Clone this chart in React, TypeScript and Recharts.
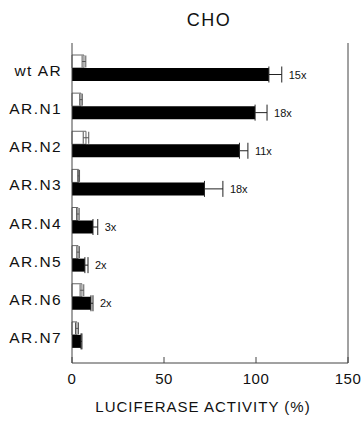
import React from 'react';
import {
  BarChart, Bar, XAxis, YAxis, ErrorBar, LabelList, Label,
} from 'recharts';

const categories = ['wt AR', 'AR.N1', 'AR.N2', 'AR.N3', 'AR.N4', 'AR.N5', 'AR.N6', 'AR.N7'];
const basal = [6.5, 4.9, 7.6, 3.6, 3.2, 3.3, 5.4, 2.7];
const basalErr = [1, 0.7, 1.5, 0.5, 0.7, 0.7, 1, 0.8];
const induced = [107, 99.5, 91, 72, 11.4, 7, 10.3, 4.9];
const inducedErr = [7, 6.5, 4.6, 10, 2.6, 1.7, 1.1, 0.5];
const folds = ['15x', '18x', '11x', '18x', '3x', '2x', '2x', ''];
const xTicks = [0, 50, 100, 150];

const data = categories.map((name, i) => ({
  name,
  basal: basal[i],
  basalErr: basalErr[i],
  induced: induced[i],
  // one-sided: the lower whisker is hidden under the filled bar anyway
  inducedErr: [0, inducedErr[i]],
  fold: folds[i],
}));

const FONT = '"Liberation Sans", Arial, Helvetica, sans-serif';
const FRAME = '#444';

const CategoryTick = (props: any) => {
  const { x, y, payload } = props;
  return (
    <text x={x} y={y} dy={8} textAnchor="end" fontSize={15.5} letterSpacing={1.4}
      fontFamily={FONT} fill="#111">
      {payload.value}
    </text>
  );
};

const ValueTick = (props: any) => {
  const { x, y, payload } = props;
  return (
    <g>
      <line x1={x} x2={x} y1={y} y2={y - 6} stroke={FRAME} strokeWidth={1} />
      <text x={x} y={y} dy={21} textAnchor="middle" fontSize={15} letterSpacing={0.5}
        fontFamily={FONT} fill="#111">
        {payload.value}
      </text>
    </g>
  );
};

const FoldLabel = (props: any) => {
  const { x, y, width, height, index } = props;
  const i = Number(index);
  const txt = folds[i];
  if (!txt) return null;
  const scale = width / induced[i];
  const errEnd = x + width + inducedErr[i] * scale;
  return (
    <text x={errEnd + 7} y={y + height / 2} dy={4} fontSize={11} fontFamily={FONT} fill="#111">
      {txt}
    </text>
  );
};

export default function App() {
  return (
    <div style={{ position: 'absolute', left: 0, top: 0, width: 364, height: 422, background: '#fff' }}>
      <div style={{
        position: 'absolute', left: 0, width: 418, top: 9, textAlign: 'center',
        fontFamily: FONT, fontSize: 18, letterSpacing: 1.5, color: '#111', lineHeight: '22px',
      }}>
        CHO
      </div>
      <BarChart
        width={364}
        height={422}
        data={data}
        layout="vertical"
        margin={{ top: 43, right: 15, bottom: 0, left: 0 }}
        barGap={0}
      >
        <XAxis
          type="number"
          domain={[0, 150]}
          ticks={xTicks}
          interval={0}
          height={59}
          tickSize={0}
          tickMargin={0}
          tick={<ValueTick />}
          axisLine={{ stroke: FRAME }}
        >
          <Label value="LUCIFERASE ACTIVITY (%)" position="insideBottom" offset={10} dx={-7}
            style={{ fontSize: 15, fontFamily: FONT, letterSpacing: 1, fill: '#111' }} />
        </XAxis>
        <XAxis
          xAxisId="top"
          orientation="top"
          type="number"
          domain={[0, 150]}
          height={0}
          tick={false}
          tickLine={false}
          axisLine={{ stroke: FRAME }}
        />
        <YAxis
          type="category"
          dataKey="name"
          width={72}
          padding={{ top: 6, bottom: 9 }}
          tickSize={0}
          tickMargin={10}
          tick={<CategoryTick />}
          axisLine={{ stroke: FRAME }}
        />
        <YAxis
          yAxisId="right"
          orientation="right"
          type="category"
          dataKey="name"
          width={1}
          tick={false}
          tickLine={false}
          axisLine={{ stroke: FRAME }}
        />
        <Bar dataKey="basal" barSize={13} fill="#fff" stroke="#666" strokeWidth={1} isAnimationActive={false}>
          <ErrorBar dataKey="basalErr" direction="x" width={6} stroke="#555" strokeWidth={1} isAnimationActive={false} />
        </Bar>
        <Bar dataKey="induced" barSize={13} fill="#000" isAnimationActive={false}>
          <ErrorBar dataKey="inducedErr" direction="x" width={8} stroke="#222" strokeWidth={1} isAnimationActive={false} />
          <LabelList dataKey="fold" content={<FoldLabel />} />
        </Bar>
      </BarChart>
    </div>
  );
}
